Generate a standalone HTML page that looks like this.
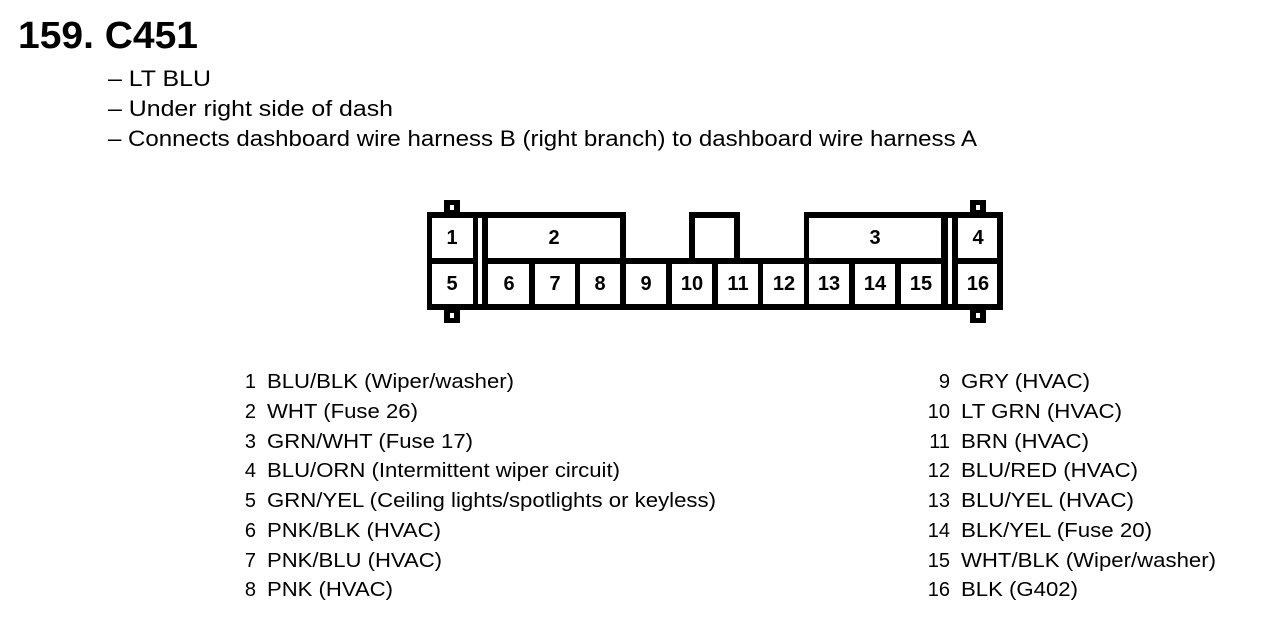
<!DOCTYPE html>
<html><head><meta charset="utf-8"><style>
html,body{margin:0;padding:0;background:#fff}
svg{display:block}
text{font-family:"Liberation Sans",Arial,sans-serif;fill:#000}
</style></head><body>
<svg width="1264" height="620" viewBox="0 0 1264 620" xmlns="http://www.w3.org/2000/svg">
<text x="18" y="48" font-size="38" font-weight="bold" textLength="180" lengthAdjust="spacingAndGlyphs">159. C451</text>
<text x="108" y="86" font-size="22" textLength="103" lengthAdjust="spacingAndGlyphs">– LT BLU</text>
<text x="108" y="116" font-size="22" textLength="285" lengthAdjust="spacingAndGlyphs">– Under right side of dash</text>
<text x="108" y="146" font-size="22" textLength="869" lengthAdjust="spacingAndGlyphs">– Connects dashboard wire harness B (right branch) to dashboard wire harness A</text>

<g fill="#000">
<rect x="444" y="200" width="16" height="14"/><rect x="970" y="200" width="16" height="14"/>
<rect x="444" y="308" width="16" height="15"/><rect x="970" y="308" width="16" height="15"/>
</g>
<g fill="#fff">
<rect x="450" y="205" width="4" height="5"/><rect x="976" y="205" width="4" height="5"/>
<rect x="450" y="313" width="4" height="5"/><rect x="976" y="313" width="4" height="5"/>
</g>
<polygon fill="#000" points="427,212 626,212 626,258 689,258 689,212 740,212 740,258 804,258 804,212 1003,212 1003,310 427,310"/>
<g fill="#fff">
<rect x="432" y="218" width="41" height="40"/>
<rect x="488" y="218" width="132" height="40"/>
<rect x="695" y="218" width="39" height="40"/>
<rect x="809" y="218" width="132" height="40"/>
<rect x="958" y="218" width="39" height="40"/>
<rect x="478" y="218" width="4" height="86"/>
<rect x="948" y="218" width="4" height="86"/>
<rect x="432" y="264" width="41" height="40"/>
<rect x="488" y="264" width="41" height="40"/>
<rect x="535" y="264" width="40" height="40"/>
<rect x="580" y="264" width="40" height="40"/>
<rect x="626" y="264" width="40" height="40"/>
<rect x="672" y="264" width="40" height="40"/>
<rect x="718" y="264" width="40" height="40"/>
<rect x="763" y="264" width="41" height="40"/>
<rect x="809" y="264" width="40" height="40"/>
<rect x="855" y="264" width="40" height="40"/>
<rect x="901" y="264" width="40" height="40"/>
<rect x="958" y="264" width="39" height="40"/>
</g>
<g font-size="20" font-weight="bold" text-anchor="middle">
<text x="452" y="244">1</text><text x="554" y="244">2</text><text x="875" y="244">3</text><text x="978" y="244">4</text>
<text x="452" y="290">5</text><text x="509" y="290">6</text><text x="555" y="290">7</text><text x="600" y="290">8</text>
<text x="646" y="290">9</text><text x="692" y="290">10</text><text x="738" y="290">11</text><text x="784" y="290">12</text>
<text x="829" y="290">13</text><text x="875" y="290">14</text><text x="921" y="290">15</text><text x="978" y="290">16</text>
</g>

<g font-size="20" lengthAdjust="spacingAndGlyphs">
<g text-anchor="end">
<text x="256" y="388">1</text><text x="256" y="418">2</text><text x="256" y="448">3</text><text x="256" y="477">4</text>
<text x="256" y="507">5</text><text x="256" y="537">6</text><text x="256" y="567">7</text><text x="256" y="596">8</text>
<text x="950" y="388">9</text><text x="950" y="418">10</text><text x="950" y="448">11</text><text x="950" y="477">12</text>
<text x="950" y="507">13</text><text x="950" y="537">14</text><text x="950" y="567">15</text><text x="950" y="596">16</text>
</g>
<text x="267" y="388" textLength="247" lengthAdjust="spacingAndGlyphs">BLU/BLK (Wiper/washer)</text>
<text x="267" y="418" textLength="151" lengthAdjust="spacingAndGlyphs">WHT (Fuse 26)</text>
<text x="267" y="448" textLength="206" lengthAdjust="spacingAndGlyphs">GRN/WHT (Fuse 17)</text>
<text x="267" y="477" textLength="353" lengthAdjust="spacingAndGlyphs">BLU/ORN (Intermittent wiper circuit)</text>
<text x="267" y="507" textLength="449" lengthAdjust="spacingAndGlyphs">GRN/YEL (Ceiling lights/spotlights or keyless)</text>
<text x="267" y="537" textLength="174" lengthAdjust="spacingAndGlyphs">PNK/BLK (HVAC)</text>
<text x="267" y="567" textLength="175" lengthAdjust="spacingAndGlyphs">PNK/BLU (HVAC)</text>
<text x="267" y="596" textLength="126" lengthAdjust="spacingAndGlyphs">PNK (HVAC)</text>
<text x="961" y="388" textLength="129" lengthAdjust="spacingAndGlyphs">GRY (HVAC)</text>
<text x="961" y="418" textLength="161" lengthAdjust="spacingAndGlyphs">LT GRN (HVAC)</text>
<text x="961" y="448" textLength="128" lengthAdjust="spacingAndGlyphs">BRN (HVAC)</text>
<text x="961" y="477" textLength="177" lengthAdjust="spacingAndGlyphs">BLU/RED (HVAC)</text>
<text x="961" y="507" textLength="173" lengthAdjust="spacingAndGlyphs">BLU/YEL (HVAC)</text>
<text x="961" y="537" textLength="191" lengthAdjust="spacingAndGlyphs">BLK/YEL (Fuse 20)</text>
<text x="961" y="567" textLength="255" lengthAdjust="spacingAndGlyphs">WHT/BLK (Wiper/washer)</text>
<text x="961" y="596" textLength="117" lengthAdjust="spacingAndGlyphs">BLK (G402)</text>
</g>
</svg>
</body></html>
